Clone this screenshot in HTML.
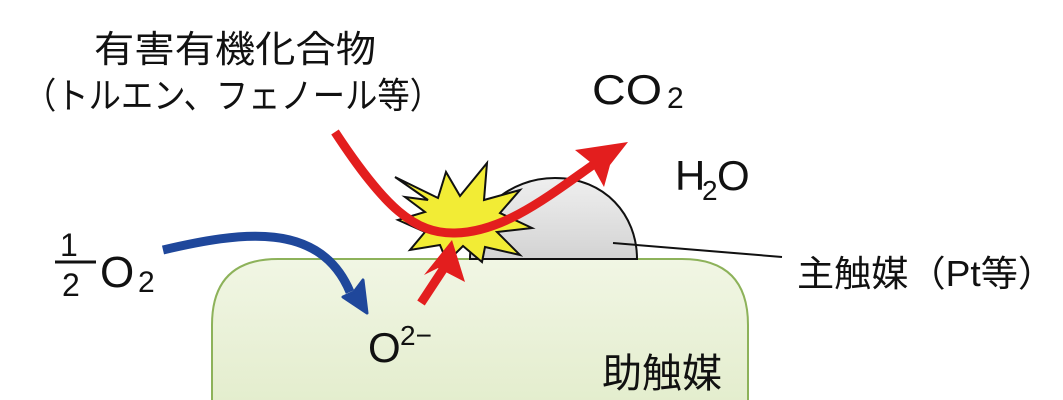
<!DOCTYPE html>
<html><head><meta charset="utf-8"><style>
html,body{margin:0;padding:0;background:#fff;}
svg{display:block;}
text{font-family:"Liberation Sans","Noto Sans CJK JP",sans-serif;fill:#111;}
</style></head><body>
<svg width="1063" height="400" viewBox="0 0 1063 400" xmlns="http://www.w3.org/2000/svg">
<defs>
<linearGradient id="g" x1="0" y1="0" x2="0" y2="1"><stop offset="0" stop-color="#f1f6e4"/><stop offset="1" stop-color="#e2eccb"/></linearGradient>
<linearGradient id="gd" x1="0" y1="0" x2="0" y2="1"><stop offset="0" stop-color="#efefef"/><stop offset="1" stop-color="#d3d3d3"/></linearGradient>
</defs>
<path d="M212,420 L212,325 Q212,259 278,259 L682,259 Q748,259 748,325 L748,420 Z" fill="url(#g)" stroke="#8db25a" stroke-width="2"/>
<path d="M470,259 C470,210 510,178 555,178 C605,178 637,215 637,259 Z" fill="url(#gd)" stroke="#111" stroke-width="2"/>
<polygon points="395,177 438,198 446,172 460,196 487,163 484,200 520,190 500,213 532,228 497,232 520,255 485,247 482,262 463,246 447,262 440,245 410,250 425,232 398,220 425,212 405,197 428,200" fill="#f2ec35" stroke="#111" stroke-width="2"/>
<path d="M335,132 C385,208 415,234 455,233 C505,232 550,195 600,160" fill="none" stroke="#e31e1e" stroke-width="9"/>
<polygon points="628,142 575,150 590,162 604,187 610,165" fill="#e31e1e"/>
<path d="M421,303 L446,265" fill="none" stroke="#e31e1e" stroke-width="9"/>
<polygon points="452,240 424,275 438,268 465,282" fill="#e31e1e"/>
<path d="M163,250 C240,232 320,220 350,292" fill="none" stroke="#1f479b" stroke-width="9"/>
<polygon points="367,313 343,297 354,292 363,280" fill="#1f479b" stroke="#1f479b" stroke-width="3" stroke-linejoin="round"/>
<line x1="613" y1="243" x2="782" y2="257" stroke="#111" stroke-width="2"/>
<text x="94" y="62" font-size="37" textLength="282" lengthAdjust="spacingAndGlyphs">有害有機化合物</text>
<text x="24" y="108" font-size="36" textLength="418" lengthAdjust="spacingAndGlyphs">（トルエン、フェノール等）</text>
<text x="592" y="104" font-size="42" textLength="70" lengthAdjust="spacingAndGlyphs">CO</text>
<text x="667" y="108" font-size="30">2</text>
<text x="675" y="190" font-size="42">H</text>
<text x="702" y="200" font-size="28">2</text>
<text x="717" y="190" font-size="42">O</text>
<text x="60" y="256" font-size="32">1</text>
<line x1="55" y1="262" x2="96" y2="262" stroke="#111" stroke-width="3"/>
<text x="62" y="296" font-size="32">2</text>
<text x="100" y="287" font-size="44">O</text>
<text x="138" y="292" font-size="30">2</text>
<text x="368" y="362" font-size="42">O</text>
<text x="400" y="345" font-size="28">2−</text>
<text x="602" y="387" font-size="40">助触媒</text>
<text x="797" y="286" font-size="36" textLength="258" lengthAdjust="spacingAndGlyphs">主触媒（Pt等）</text>
</svg>
</body></html>
